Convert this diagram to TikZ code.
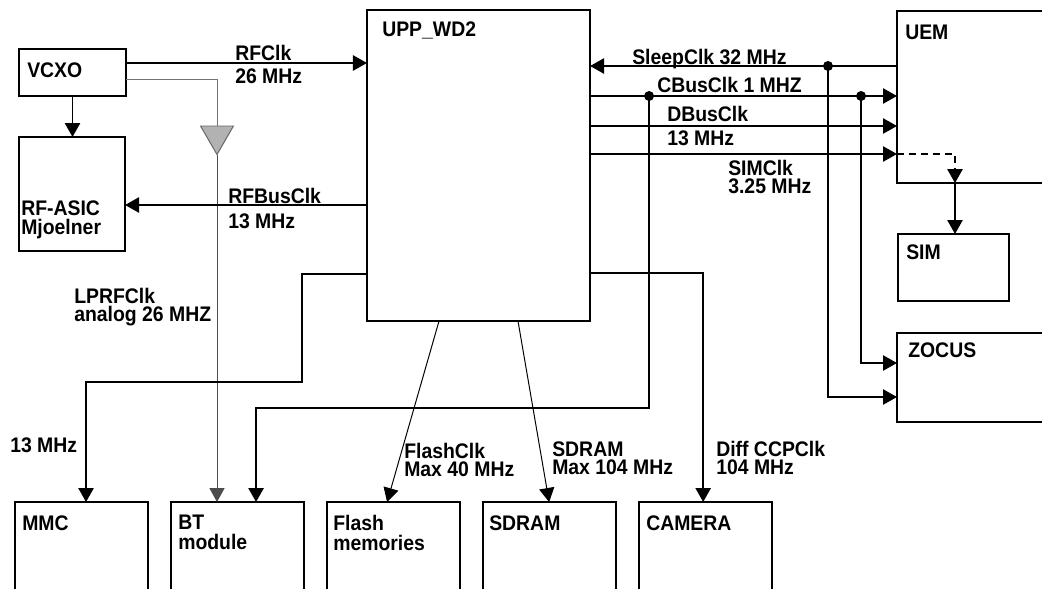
\documentclass[tikz,border=0pt]{standalone}
\usepackage{fontspec}
\setmainfont{Liberation Sans}[FakeStretch=0.92]
\usepackage{tikz}
\usetikzlibrary{positioning,arrows.meta,shapes.geometric,calc}

\begin{document}
\begin{tikzpicture}[
    x=0.025cm, y=-0.025cm,
    block/.style={rectangle, draw, line width=1.4pt, anchor=north west, inner sep=0pt, outer sep=0pt},
    tag/.style={anchor=north west, inner sep=0pt, align=left, font=\bfseries\fontsize{15}{14.2}\selectfont},
    tight/.style={tag, font=\bfseries\fontsize{15}{13}\selectfont},
    clk/.style={-{Triangle[length=0.35cm, width=0.38cm]}, line width=1.4pt},
    fine/.style={clk, line width=0.7pt},
    feed/.style={line width=0.7pt, draw=black!55},
    buffer/.style={regular polygon, regular polygon sides=3, shape border rotate=180, draw=black!60, fill=black!30, line width=0.7pt, minimum size=0.95cm, inner sep=0pt},
    dot/.style={circle, fill, inner sep=0pt, minimum size=0.25cm}
]
\useasboundingbox (0,0) rectangle (1042,588);
\clip (0,0) rectangle (1042,588);

\node[block, minimum width=2.675cm, minimum height=1.175cm] (vcxo) at (19,49) {};
\node[block, minimum width=2.65cm, minimum height=2.85cm] (rfasic) at (19,137) {};
\node[block, minimum width=5.575cm, minimum height=7.775cm] (upp) at (367,10) {};
\node[block, minimum width=5cm, minimum height=4.3cm] (uem) at (897,11) {};
\node[block, minimum width=2.775cm, minimum height=1.675cm] (sim) at (898,234) {};
\node[block, minimum width=5cm, minimum height=2.225cm] (zocus) at (897,333) {};
\node[block, minimum width=3.325cm, minimum height=3cm] (mmc) at (15,502) {};
\node[block, minimum width=3.325cm, minimum height=3cm, right=0.575cm of mmc] (bt) {};
\node[block, minimum width=3.325cm, minimum height=3cm, right=0.575cm of bt] (flash) {};
\node[block, minimum width=3.325cm, minimum height=3cm, right=0.575cm of flash] (sdram) {};
\node[block, minimum width=3.325cm, minimum height=3cm, right=0.575cm of sdram] (camera) {};
\node[buffer] (buf) at (217,135.5) {};

\node[tag] (vcxoT) at (27,62) {VCXO};
\node[tag] (rfasicT) at (21,200) {RF-ASIC\\Mjoelner};
\node[tag] (uppT) at (382,21) {UPP\_WD2};
\node[tag] (uemT) at (905,25) {UEM};
\node[tag] (simT) at (906,244) {SIM};
\node[tag] (zocusT) at (908,342) {ZOCUS};
\node[tag] (mmcT) at (22,515) {MMC};
\node[tag] (btT) at (178,515) {BT\\module};
\node[tag] (flashT) at (333,515) {Flash\\memories};
\node[tag] (sdramT) at (489,515) {SDRAM};
\node[tag] (cameraT) at (646,515) {CAMERA};

\node[tag] (rfclkT) at (235,45) {RFClk};
\node[tag] (rfclkF) at (235,68) {26 MHz};
\node[tag] (rfbusT) at (228,188) {RFBusClk};
\node[tag] (rfbusF) at (228,213) {13 MHz};
\node[tag] (sleepT) at (632,49) {SleepClk 32 MHz};
\node[tag] (cbusT) at (657,77) {CBusClk 1 MHZ};
\node[tag] (dbusT) at (667,106) {DBusClk};
\node[tag] (dbusF) at (667,130) {13 MHz};
\node[tight] (simclkT) at (728,160) {SIMClk\\3.25 MHz};
\node[tight] (lprfT) at (74,288) {LPRFClk\\analog 26 MHZ};
\node[tag] (mmcclkT) at (10,437) {13 MHz};
\node[tight] (flashclkT) at (404,443) {FlashClk\\Max 40 MHz};
\node[tight] (sdramclkT) at (552,441) {SDRAM\\Max 104 MHz};
\node[tight] (ccpT) at (716,441) {Diff CCPClk\\104 MHz};

\draw[clk] ($(vcxo.north east)+(0,14)$) coordinate (rfclk) -- (rfclk -| upp.west);
\draw[clk] (vcxo.south) -- (vcxo.south |- rfasic.north);
\draw[feed] ($(vcxo.north east)+(0,30)$) -| ($(buf.corner 2)!0.5!(buf.corner 3)$);
\draw[fine, draw=black!70] (buf.corner 1) -- (buf.corner 1 |- bt.north);
\draw[clk] ($(upp.north west)+(0,195)$) coordinate (rfbus) -- (rfbus -| rfasic.east);
\draw[clk] ($(upp.north west)+(0,264)$) -- ++(-65,0) -- ++(0,108) -| ($(mmc.north)+(4.5,0)$);
\draw[fine] ($(upp.south west)+(72,0)$) -- ($(flash.north)+(-6.5,0)$);
\draw[fine] ($(upp.south west)+(151,0)$) -- ($(sdram.north)+(-0.5,0)$);
\draw[clk] ($(upp.south east)+(0,-48)$) -| ($(camera.north)+(-2.5,0)$);

\draw[clk] ($(uem.north west)+(0,55)$) coordinate (sleep) -- (sleep -| upp.east);
\node[dot] (sleepDot) at ($(sleep)+(-69,0)$) {};
\draw[clk] (sleepDot.center) |- ($(zocus.north west)+(0,64)$);

\draw[clk] ($(upp.north east)+(0,86)$) coordinate (cbus) -- (cbus -| uem.west);
\node[dot] (cbusA) at ($(cbus)+(59,0)$) {};
\node[dot] (cbusB) at ($(cbus)+(271,0)$) {};
\draw[clk] (cbusA.center) -- ++(0,312) -| ($(bt.north)+(18.5,0)$);
\draw[clk] (cbusB.center) |- ($(zocus.north west)+(0,30)$);

\draw[clk] ($(upp.north east)+(0,116)$) coordinate (dbus) -- (dbus -| uem.west);
\draw[clk] ($(upp.north east)+(0,144)$) coordinate (simclk) -- (simclk -| uem.west);
\draw[clk, dash pattern=on 5pt off 3.5pt] (simclk -| uem.west) -| ($(uem.south west)+(58,0)$) coordinate (uemsim);
\draw[clk] (uemsim) -- (uemsim |- sim.north);

\end{tikzpicture}
\end{document}
